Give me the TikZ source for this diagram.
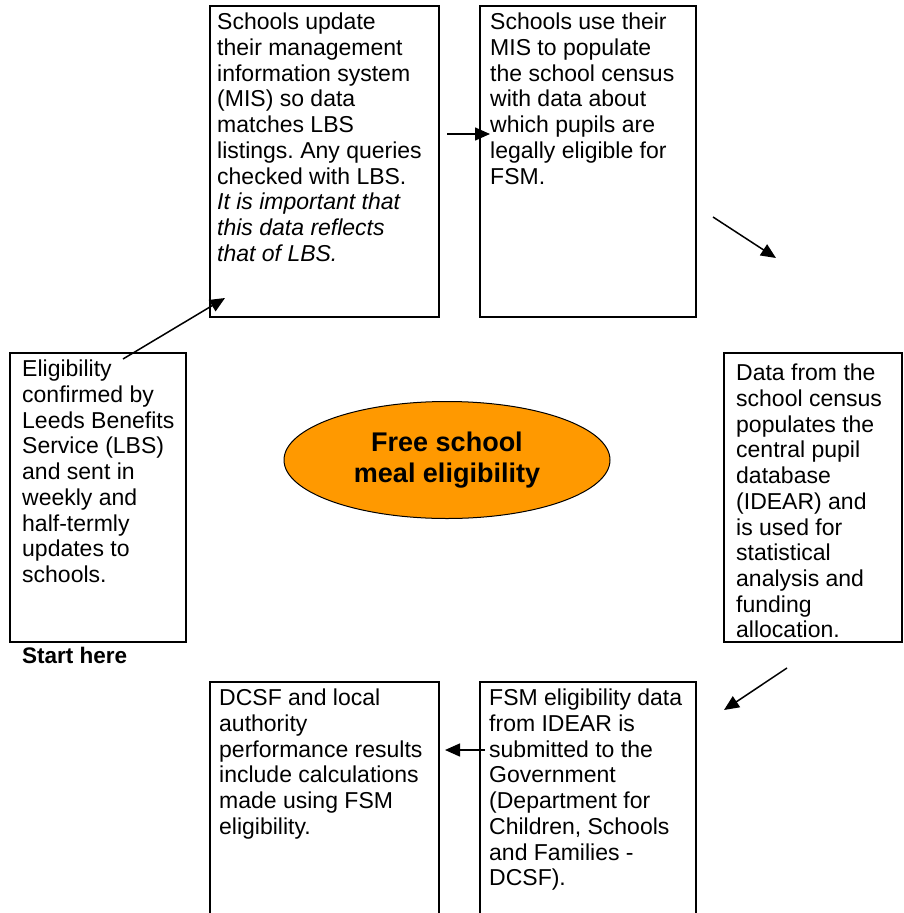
\documentclass[tikz,border=0pt]{standalone}
\usepackage{fontspec}
\setmainfont{Liberation Sans}
\usetikzlibrary{arrows.meta,shapes.geometric}
\definecolor{fsmorange}{RGB}{255,153,0}
\frenchspacing

\begin{document}
\begin{tikzpicture}[
  x=1pt, y=-1pt,
  font=\fontsize{23}{25.7}\selectfont,
  frame/.style={draw, line width=2pt, anchor=north west, inner sep=0pt},
  txt/.style={anchor=north west, inner sep=0pt, align=left},
  arr/.style={-{Triangle[length=15pt,width=13pt]}, line width=1.5pt},
  hub/.style={ellipse, draw, line width=1pt, fill=fsmorange,
              minimum width=326pt, minimum height=117pt, inner sep=0pt,
              align=center, font=\fontsize{27}{31}\selectfont\bfseries},
]
\useasboundingbox (0,0) rectangle (903,913);
\clip (0,0) rectangle (903,913);

% ---- Top row ----
\node[frame, minimum width=229pt, minimum height=311pt] (upd) at (209,5) {};
\node[txt] (updt) at ([shift={(8,8)}]upd.north west)
  {Schools update\\ their management\\ information system\\ (MIS) so data\\
   matches LBS\\ listings. Any queries\\ checked with LBS.\\
   \textit{It is important that}\\ \textit{this data reflects}\\ \textit{that of LBS.}};

\node[frame, minimum width=216pt, minimum height=311pt] (mis) at (479,5) {};
\node[txt] (mist) at ([shift={(11,8)}]mis.north west)
  {Schools use their\\ MIS to populate\\ the school census\\ with data about\\
   which pupils are\\ legally eligible for\\ FSM.};

% ---- Middle row ----
\node[frame, minimum width=176pt, minimum height=289pt] (elig) at (9,352) {};
\node[txt] (eligt) at ([shift={(13,8)}]elig.north west)
  {Eligibility\\ confirmed by\\ Leeds Benefits\\ Service (LBS)\\ and sent in\\
   weekly and\\ half-termly\\ updates to\\ schools.};
\node[anchor=base west, inner sep=0pt, font=\fontsize{22.5}{26}\selectfont\bfseries]
  (start) at (22,663) {Start here};

\node[hub] (fsm) at (447,460) {Free school\\ meal eligibility};

\node[frame, minimum width=178pt, minimum height=289pt] (idear) at (723,352) {};
\node[txt] (ideart) at ([shift={(13,12)}]idear.north west)
  {Data from the\\ school census\\ populates the\\ central pupil\\ database\\
   (IDEAR) and\\ is used for\\ statistical\\ analysis and\\ funding\\ allocation.};

% ---- Bottom row ----
\node[frame, minimum width=229pt, minimum height=260pt] (perf) at (209,681) {};
\node[txt] (perft) at ([shift={(10,8)}]perf.north west)
  {DCSF and local\\ authority\\ performance results\\ include calculations\\
   made using FSM\\ eligibility.};

\node[frame, minimum width=216pt, minimum height=260pt] (dcsf) at (479,681) {};
\node[txt] (dcsft) at ([shift={(10,8)}]dcsf.north west)
  {FSM eligibility data\\ from IDEAR is\\ submitted to the\\ Government\\
   (Department for\\ Children, Schools\\ and Families -\\ DCSF).};

% ---- Arrows ----
\coordinate (a1) at (123,359); \coordinate (b1) at (225,298);
\coordinate (a2) at (447,134); \coordinate (b2) at (490,134);
\coordinate (a3) at (713,217); \coordinate (b3) at (776,258);
\coordinate (a4) at (787,668); \coordinate (b4) at (724,710);
\coordinate (a5) at (485,750); \coordinate (b5) at (445,750);
\foreach \i in {1,...,5}
  \draw[arr] (a\i) -- (b\i);
\end{tikzpicture}
\end{document}
